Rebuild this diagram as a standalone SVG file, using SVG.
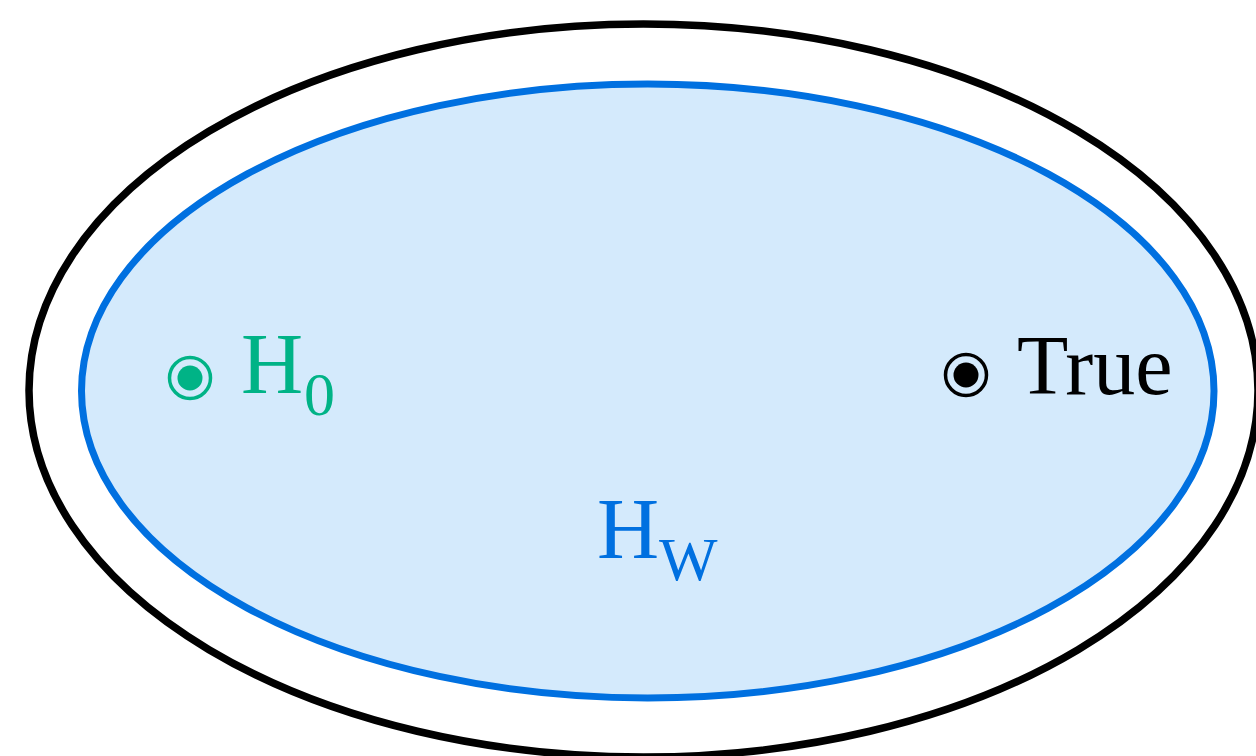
<svg xmlns="http://www.w3.org/2000/svg" width="1256" height="756" viewBox="0 0 1256 756">
<style>
.t{font-family:"Liberation Serif","DejaVu Serif",serif;}
</style>
<rect width="1256" height="756" fill="#ffffff"/>
<g id="outer"><ellipse cx="643.5" cy="390.5" rx="614.5" ry="366.5" fill="#ffffff" stroke="#000000" stroke-width="7.5"/></g>
<g id="hw"><ellipse cx="647.75" cy="391" rx="566.25" ry="307" fill="#d4eafc" stroke="#0070e0" stroke-width="7"/>
<text class="t" x="597" y="558" font-size="86" fill="#0070e0">H</text>
<text class="t" x="659" y="580" font-size="62" fill="#0070e0">W</text></g>
<g id="h0"><circle cx="190" cy="378" r="20.5" fill="none" stroke="#00b386" stroke-width="3.5"/>
<circle cx="190" cy="378" r="12.5" fill="#00b386"/>
<text class="t" x="241" y="393" font-size="86" fill="#00b386">H</text>
<text class="t" x="304" y="415" font-size="62" fill="#00b386">0</text></g>
<g id="true"><circle cx="966" cy="375" r="20.5" fill="none" stroke="#000000" stroke-width="3.5"/>
<circle cx="966" cy="375" r="12.5" fill="#000000"/>
<text class="t" x="1017" y="394" font-size="84" fill="#000000">True</text></g>
</svg>
